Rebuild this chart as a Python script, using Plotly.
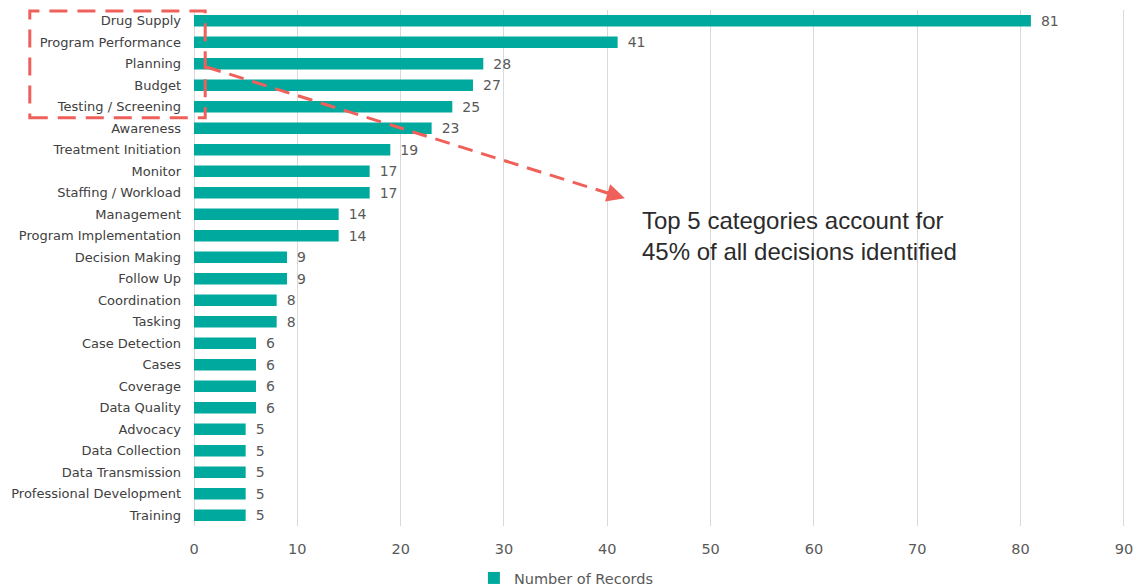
import plotly.graph_objects as go

# Decision categories and their record counts
categories = [
    "Drug Supply", "Program Performance", "Planning", "Budget", "Testing / Screening",
    "Awareness", "Treatment Initiation", "Monitor", "Staffing / Workload", "Management",
    "Program Implementation", "Decision Making", "Follow Up", "Coordination", "Tasking",
    "Case Detection", "Cases", "Coverage", "Data Quality", "Advocacy", "Data Collection",
    "Data Transmission", "Professional Development", "Training",
]
records = [81, 41, 28, 27, 25, 23, 19, 17, 17, 14, 14, 9, 9, 8, 8, 6, 6, 6, 6, 5, 5, 5, 5, 5]
x_ticks = [0, 10, 20, 30, 40, 50, 60, 70, 80, 90]

callout_lines = ["Top 5 categories account for", "45% of all decisions identified"]

TEAL = "#00A99D"
RED = "#F0605A"
GRID = "#D9D9D9"
FONT = "DejaVu Sans, Verdana, sans-serif"
CALLOUT_FONT = "Liberation Sans, Arial, sans-serif"

fig = go.Figure()
fig.add_trace(go.Bar(
    x=records,
    y=categories,
    orientation="h",
    name="Number of Records",
    marker=dict(color=TEAL, line=dict(width=0)),
    texttemplate="\u2002%{x}",
    textposition="outside",
    constraintext="none",
    textfont=dict(size=14, color="#595959", family=FONT),
    cliponaxis=False,
))

# Dashed box around the top five categories (paper coords so it can reach into the label margin)
fig.add_shape(
    type="rect", xref="paper", yref="paper",
    x0=-0.176, x1=0.012, y0=0.791, y1=0.998,
    line=dict(color=RED, width=3, dash="18px,10px"),
    fillcolor="rgba(0,0,0,0)", layer="above",
)
# Dashed pointer from the box to the callout
fig.add_shape(
    type="line", xref="x", yref="y",
    x0=1.2, y0=2.15, x1=40.6, y1=8.1,
    line=dict(color=RED, width=3, dash="15px,9px"),
    layer="above",
)
fig.add_annotation(
    x=41.7, y=8.25, xref="x", yref="y",
    ax=39.6, ay=7.95, axref="x", ayref="y",
    showarrow=True, arrowhead=2, arrowsize=1.2, arrowwidth=3, arrowcolor=RED,
    text="",
)
fig.add_annotation(
    x=43.2, y=9.99, xref="x", yref="y",
    xanchor="left", yanchor="middle", align="left",
    text="<br>".join(callout_lines),
    showarrow=False,
    font=dict(size=24, color="#2B2B2B", family=CALLOUT_FONT),
)

fig.update_layout(
    width=1134, height=588,
    margin=dict(l=194, r=7, t=10, b=62, autoexpand=False),
    paper_bgcolor="white", plot_bgcolor="white",
    bargap=0.47,
    font=dict(family=FONT, color="#404040"),
    showlegend=True,
    legend=dict(
        orientation="h", x=0.30, xanchor="left",
        yref="container", y=0.017, yanchor="middle",
        font=dict(size=14.5, color="#595959", family=FONT),
        itemwidth=30,
    ),
    xaxis=dict(
        range=[0, 90.3], tickvals=x_ticks,
        showgrid=True, gridcolor=GRID, gridwidth=1,
        zeroline=True, zerolinecolor=GRID, zerolinewidth=1,
        showline=False, ticks="",
        tickfont=dict(size=14.5, color="#595959", family=FONT),
        ticklabelstandoff=12, ticklabeloverflow="allow",
    ),
    yaxis=dict(
        autorange="reversed",
        showgrid=False, zeroline=False, showline=False, ticks="",
        tickfont=dict(size=13, color="#404040", family=FONT),
        ticklabelstandoff=12,
    ),
)

fig.write_html("out.html")
